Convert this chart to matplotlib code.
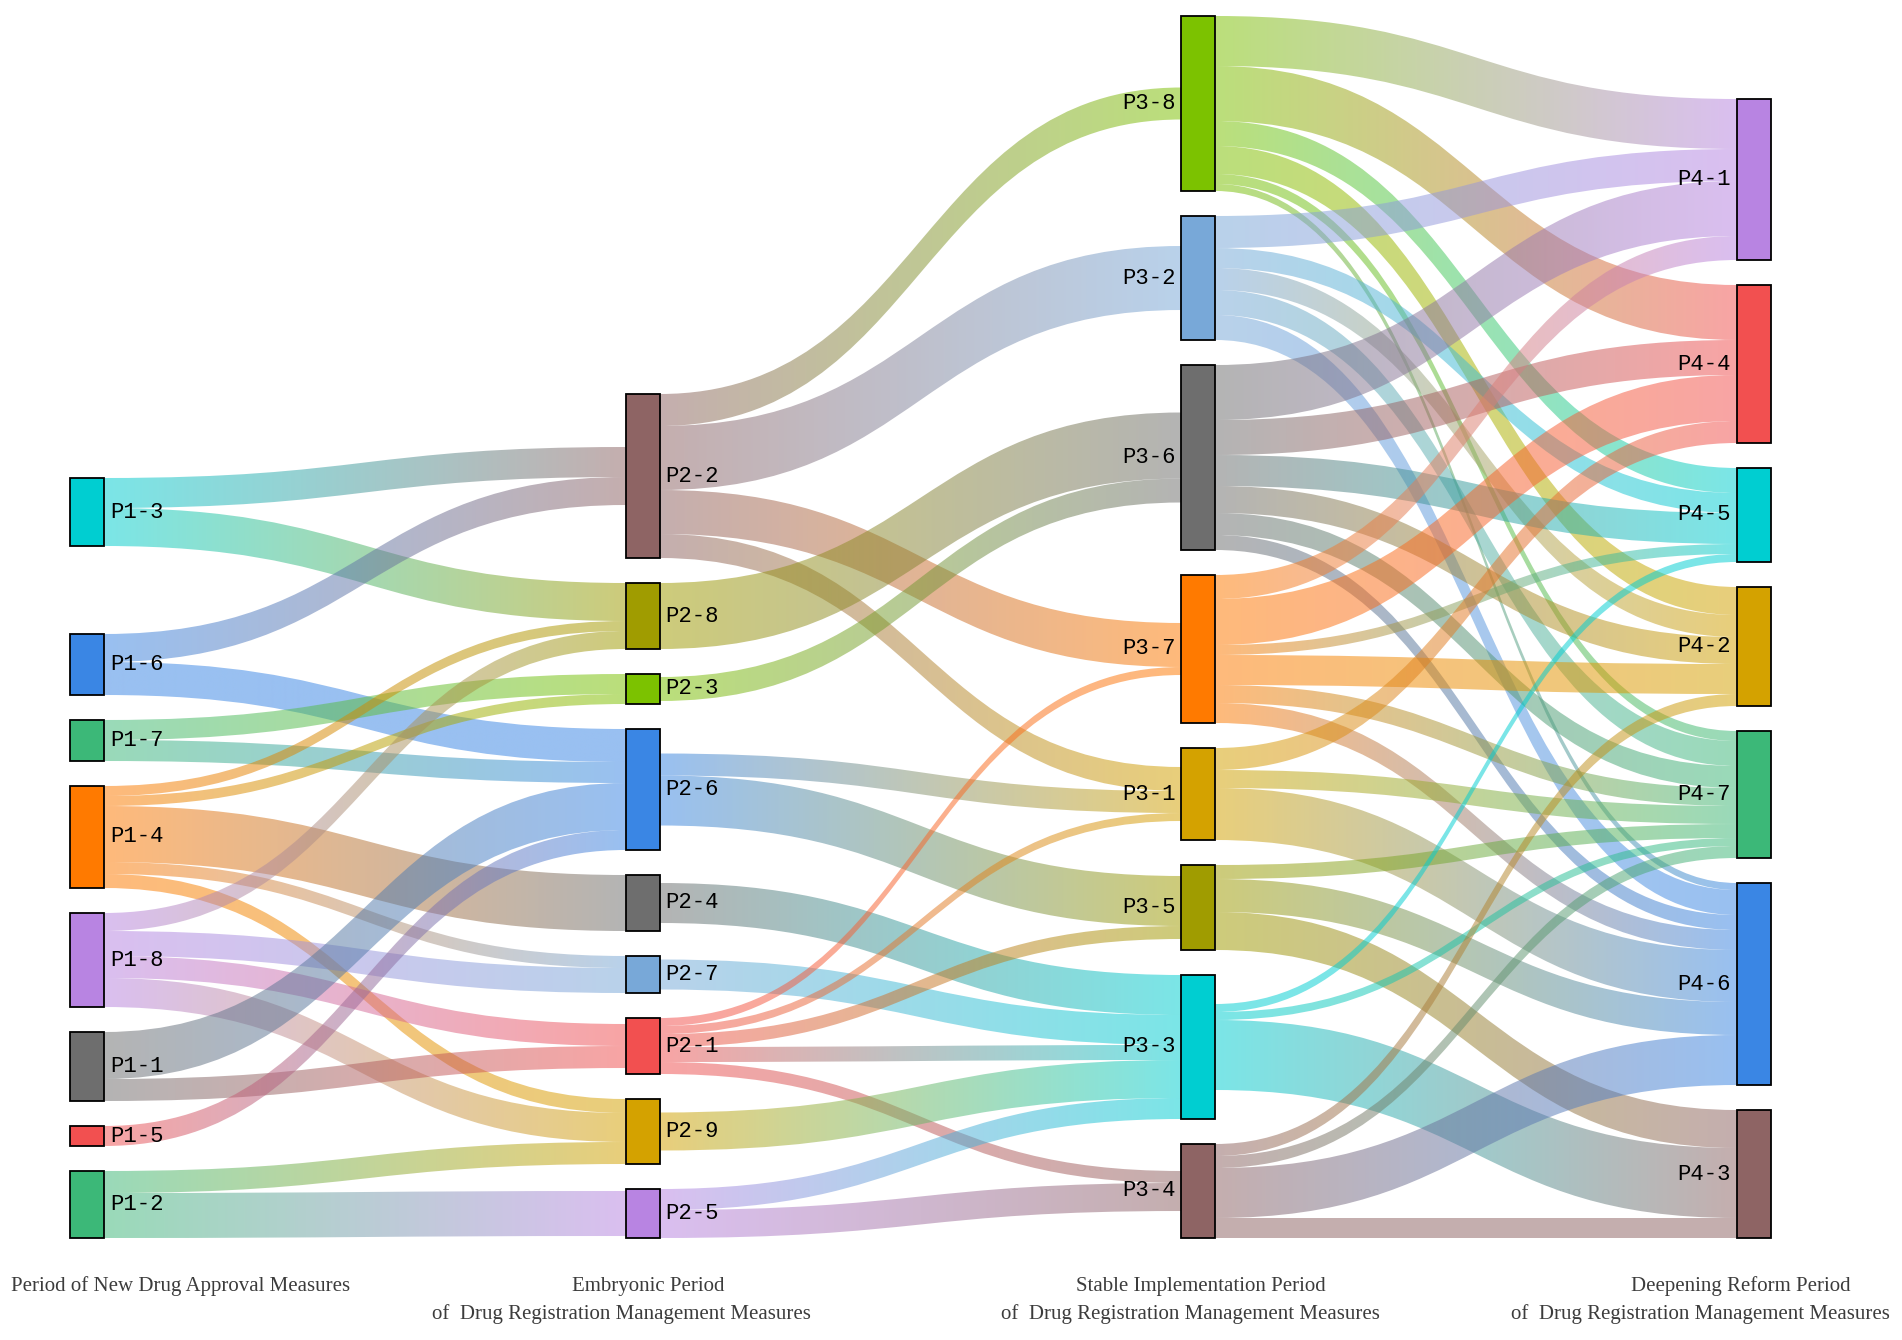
import numpy as np
import matplotlib.pyplot as plt
from matplotlib.path import Path
from matplotlib.patches import PathPatch, Rectangle
from matplotlib.colors import to_rgb
from collections import defaultdict

# node order in each period (top to bottom)
col1 = ["P1-3", "P1-6", "P1-7", "P1-4", "P1-8", "P1-1", "P1-5", "P1-2"]
col2 = ["P2-2", "P2-8", "P2-3", "P2-6", "P2-4", "P2-7", "P2-1", "P2-9", "P2-5"]
col3 = ["P3-8", "P3-2", "P3-6", "P3-7", "P3-1", "P3-5", "P3-3", "P3-4"]
col4 = ["P4-1", "P4-4", "P4-5", "P4-2", "P4-7", "P4-6", "P4-3"]

# flows (source, target, value)
flows_12 = [
    ("P1-3", "P2-2", 30), ("P1-3", "P2-8", 38),
    ("P1-6", "P2-2", 28), ("P1-6", "P2-6", 33),
    ("P1-7", "P2-3", 20), ("P1-7", "P2-6", 21),
    ("P1-4", "P2-8", 10), ("P1-4", "P2-3", 10), ("P1-4", "P2-4", 56),
    ("P1-4", "P2-7", 12), ("P1-4", "P2-9", 14),
    ("P1-8", "P2-8", 18), ("P1-8", "P2-7", 25), ("P1-8", "P2-1", 22),
    ("P1-8", "P2-9", 29),
    ("P1-1", "P2-6", 47), ("P1-1", "P2-1", 22),
    ("P1-5", "P2-6", 20),
    ("P1-2", "P2-9", 22), ("P1-2", "P2-5", 45),
]
flows_23 = [
    ("P2-2", "P3-8", 32), ("P2-2", "P3-2", 64), ("P2-2", "P3-7", 44),
    ("P2-2", "P3-1", 24),
    ("P2-8", "P3-6", 66),
    ("P2-3", "P3-6", 24),
    ("P2-6", "P3-1", 22), ("P2-6", "P3-5", 50),
    ("P2-4", "P3-3", 40),
    ("P2-7", "P3-3", 30),
    ("P2-1", "P3-7", 8), ("P2-1", "P3-1", 8), ("P2-1", "P3-5", 13),
    ("P2-1", "P3-3", 15), ("P2-1", "P3-4", 12),
    ("P2-9", "P3-3", 38),
    ("P2-5", "P3-3", 21), ("P2-5", "P3-4", 28),
]
flows_34 = [
    ("P3-8", "P4-1", 50), ("P3-8", "P4-4", 55), ("P3-8", "P4-5", 25),
    ("P3-8", "P4-2", 28), ("P3-8", "P4-7", 10), ("P3-8", "P4-6", 7),
    ("P3-2", "P4-1", 32), ("P3-2", "P4-5", 20), ("P3-2", "P4-2", 22),
    ("P3-2", "P4-7", 25), ("P3-2", "P4-6", 25),
    ("P3-6", "P4-1", 55), ("P3-6", "P4-4", 35), ("P3-6", "P4-5", 31),
    ("P3-6", "P4-2", 27), ("P3-6", "P4-7", 22), ("P3-6", "P4-6", 15),
    ("P3-7", "P4-1", 24), ("P3-7", "P4-4", 46), ("P3-7", "P4-5", 10),
    ("P3-7", "P4-2", 30), ("P3-7", "P4-7", 18), ("P3-7", "P4-6", 20),
    ("P3-1", "P4-4", 22), ("P3-1", "P4-7", 18), ("P3-1", "P4-6", 52),
    ("P3-5", "P4-7", 14), ("P3-5", "P4-6", 33), ("P3-5", "P4-3", 38),
    ("P3-3", "P4-5", 8), ("P3-3", "P4-7", 8), ("P3-3", "P4-3", 70),
    ("P3-4", "P4-2", 12), ("P3-4", "P4-7", 12),
    ("P3-4", "P4-6", 50), ("P3-4", "P4-3", 20),
]

period_titles = [
    ["Period of New Drug Approval Measures"],
    ["Embryonic Period", "of  Drug Registration Management Measures"],
    ["Stable Implementation Period", "of  Drug Registration Management Measures"],
    ["Deepening Reform Period", "of  Drug Registration Management Measures"],
]

# styling
cyan, blue, green, orange = "#00CED1", "#3A86E4", "#3CB878", "#FF7A00"
purple, gray, red, mauve = "#B884E2", "#6E6E6E", "#F25050", "#8E6464"
olive, lime, steel, gold = "#A09C00", "#7CC200", "#78A8D8", "#D4A200"
node_colors = {
    "P1-3": cyan, "P1-6": blue, "P1-7": green, "P1-4": orange, "P1-8": purple,
    "P1-1": gray, "P1-5": red, "P1-2": green,
    "P2-2": mauve, "P2-8": olive, "P2-3": lime, "P2-6": blue, "P2-4": gray,
    "P2-7": steel, "P2-1": red, "P2-9": gold, "P2-5": purple,
    "P3-8": lime, "P3-2": steel, "P3-6": gray, "P3-7": orange, "P3-1": gold,
    "P3-5": olive, "P3-3": cyan, "P3-4": mauve,
    "P4-1": purple, "P4-4": red, "P4-5": cyan, "P4-2": gold, "P4-7": green,
    "P4-6": blue, "P4-3": mauve,
}

W, H = 1902, 1340
fig = plt.figure(figsize=(W / 100, H / 100), dpi=100)
ax = fig.add_axes([0, 0, 1, 1])
ax.axis("off")

columns = [col1, col2, col3, col4]
links = flows_12 + flows_23 + flows_34

inflow, outflow = defaultdict(float), defaultdict(float)
for s, t, v in links:
    outflow[s] += v
    inflow[t] += v
size = {n: max(inflow[n], outflow[n]) for col in columns for n in col}

# layout: nodes stacked from a common bottom line
node_w, gap, bottom = 34, 25, 1238
left, right = 70, 1771
step = (right - node_w - left) / 3
lift = {"P1-3": 63}
xpos, ypos = {}, {}
for ci, col in enumerate(columns):
    y = bottom
    for n in reversed(col):
        y -= size[n]
        ypos[n] = y - lift.get(n, 0)
        xpos[n] = left + ci * step
        y -= gap

# link attachment points (smaller side centred on the node)
out_off, in_off = {}, {}
for col in columns:
    for n in col:
        outs = sorted([l for l in links if l[0] == n], key=lambda l: ypos[l[1]])
        ins = sorted([l for l in links if l[1] == n], key=lambda l: ypos[l[0]])
        y = ypos[n] + (size[n] - outflow[n]) / 2
        for l in outs:
            out_off[l] = y
            y += l[2]
        y = ypos[n] + (size[n] - inflow[n]) / 2
        for l in ins:
            in_off[l] = y
            y += l[2]

tgrad = np.linspace(0, 1, 200)[None, :, None]
for l in links:
    s, t, v = l
    x0 = xpos[s] + node_w
    x1 = xpos[t]
    xm = (x0 + x1) / 2
    sy, ty = out_off[l], in_off[l]
    verts = [(x0, sy), (xm, sy), (xm, ty), (x1, ty),
             (x1, ty + v), (xm, ty + v), (xm, sy + v), (x0, sy + v), (x0, sy)]
    codes = [Path.MOVETO, Path.CURVE4, Path.CURVE4, Path.CURVE4,
             Path.LINETO, Path.CURVE4, Path.CURVE4, Path.CURVE4, Path.CLOSEPOLY]
    patch = PathPatch(Path(verts, codes), facecolor="none", edgecolor="none",
                      transform=ax.transData)
    c0 = np.array(to_rgb(node_colors[s]))
    c1 = np.array(to_rgb(node_colors[t]))
    img = c0 * (1 - tgrad) + c1 * tgrad
    ymin, ymax = min(sy, ty) - 2, max(sy, ty) + v + 2
    im = ax.imshow(img, extent=(x0, x1, ymax, ymin), aspect="auto",
                   alpha=0.52, interpolation="bilinear", zorder=1)
    im.set_clip_path(patch)

for ci, col in enumerate(columns):
    for n in col:
        ax.add_patch(Rectangle((xpos[n], ypos[n]), node_w, size[n],
                               facecolor=node_colors[n], edgecolor="black",
                               lw=1.3, zorder=3))
        yc = ypos[n] + size[n] / 2
        if ci < 2:
            ax.text(xpos[n] + node_w + 6, yc, n, ha="left", va="center",
                    fontsize=16, family="Liberation Mono", color="black", zorder=4)
        else:
            ax.text(xpos[n] - 6, yc, n, ha="right", va="center",
                    fontsize=16, family="Liberation Mono", color="black", zorder=4)

# period titles under each column
title_x = [[181], [648, 621], [1201, 1190], [1741, 1700]]
for lines, xs in zip(period_titles, title_x):
    for k, (txt, x) in enumerate(zip(lines, xs)):
        ax.text(x, 1286 + k * 28, txt, ha="center", va="center", fontsize=15,
                family="Liberation Serif", color="#3c3c3c")

ax.set_xlim(0, W)
ax.set_ylim(H, 0)
fig.savefig("out.png", dpi=100, facecolor="white")
